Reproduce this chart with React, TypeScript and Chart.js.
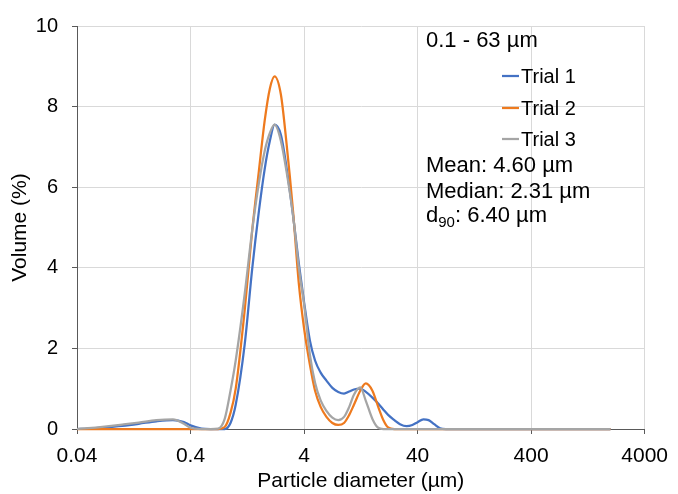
import React, { useEffect, useRef } from "react";
import { Chart, registerables } from "chart.js";

Chart.register(...registerables);

// Particle diameter (µm)
const sizes = [
  0.04, 0.05, 0.07, 0.1, 0.14, 0.2, 0.28, 0.35, 0.4, 0.5, 0.6, 0.7, 0.8, 0.9, 1.0,
  1.2, 1.4, 1.6, 1.8, 2.0, 2.2, 2.5, 2.8, 3.2, 3.6, 4.0, 4.5, 5.0, 5.6, 6.3, 7.1,
  8.0, 9.0, 10, 11, 12.5, 14, 16, 18, 20, 22, 25, 28, 32, 36, 40, 45, 50, 56, 63,
  71, 80, 100, 200, 500, 1000, 2000,
];

// Volume (%)
const trial1 = [
  0, 0.01, 0.04, 0.08, 0.13, 0.19, 0.22, 0.17, 0.09, 0.01, 0, 0, 0, 0.15, 0.6,
  2.1, 4.0, 5.4, 6.45, 7.15, 7.55, 7.3, 6.5, 5.3, 4.1, 3.15, 2.2, 1.7, 1.4, 1.2, 1.02,
  0.92, 0.88, 0.93, 0.98, 1.0, 0.92, 0.78, 0.63, 0.48, 0.35, 0.22, 0.12, 0.07, 0.1, 0.17, 0.24, 0.22, 0.12, 0.02,
  0, 0, 0, 0, 0, 0, 0,
];
const trial2 = [
  0, 0, 0, 0, 0, 0, 0, 0, 0, 0, 0, 0, 0.05, 0.4, 1.0,
  2.95, 4.95, 6.4, 7.65, 8.45, 8.75, 8.3, 7.1, 5.4, 3.6, 2.5, 1.6, 0.95, 0.55, 0.3, 0.15,
  0.1, 0.15, 0.35, 0.6, 0.95, 1.13, 0.95, 0.55, 0.22, 0.04, 0, 0, 0, 0, 0, 0, 0, 0, 0,
  0, 0, 0, 0, 0, 0, 0,
];
const trial3 = [
  0, 0.02, 0.06, 0.11, 0.16, 0.22, 0.24, 0.13, 0.03, 0, 0, 0.01, 0.25, 0.95, 1.7,
  3.35, 4.95, 6.1, 6.9, 7.35, 7.55, 7.15, 6.4, 5.3, 4.0, 3.1, 1.85, 1.15, 0.71, 0.45, 0.28,
  0.22, 0.3, 0.55, 0.85, 1.03, 0.7, 0.25, 0.03, 0, 0, 0, 0, 0, 0, 0, 0, 0, 0, 0,
  0, 0, 0, 0, 0, 0, 0,
];

const seriesNames = ["Trial 1", "Trial 2", "Trial 3"];
const seriesColors = ["#4472C4", "#EE7A1E", "#A5A5A5"];
const xTicks = [0.04, 0.4, 4, 40, 400, 4000];
const yTicks = [0, 2, 4, 6, 8, 10];
const rangeLabel = "0.1 - 63 µm";
const meanLabel = "Mean: 4.60 µm";
const medianLabel = "Median: 2.31 µm";
const d90Value = ": 6.40 µm";

const FONT = "'Liberation Sans', Arial, Helvetica, sans-serif";

const annotPlugin = {
  id: "annot",
  afterDraw(chart: any) {
    const ctx = chart.ctx as CanvasRenderingContext2D;
    ctx.save();
    ctx.fillStyle = "#000";
    ctx.textBaseline = "alphabetic";
    ctx.textAlign = "left";
    const tx = 426;
    ctx.font = `22px ${FONT}`;
    ctx.fillText(rangeLabel, tx, 47);

    // legend
    const lx0 = 502;
    const lx1 = 519;
    const legY = [76, 108, 139];
    seriesNames.forEach((name, i) => {
      ctx.strokeStyle = seriesColors[i];
      ctx.lineWidth = 2.25;
      ctx.beginPath();
      ctx.moveTo(lx0, legY[i]);
      ctx.lineTo(lx1, legY[i]);
      ctx.stroke();
      ctx.fillStyle = "#000";
      ctx.font = `20px ${FONT}`;
      ctx.textBaseline = "middle";
      ctx.fillText(name, 521, legY[i] + 1);
    });

    ctx.textBaseline = "alphabetic";
    ctx.font = `22px ${FONT}`;
    ctx.fillText(meanLabel, tx, 172);
    ctx.fillText(medianLabel, tx, 198);
    ctx.fillText("d", tx, 222);
    const dw = ctx.measureText("d").width;
    ctx.font = `15px ${FONT}`;
    ctx.fillText("90", tx + dw, 227);
    const sw = ctx.measureText("90").width;
    ctx.font = `22px ${FONT}`;
    ctx.fillText(d90Value, tx + dw + sw, 222);
    ctx.restore();
  },
};

export default function App() {
  const ref = useRef<HTMLCanvasElement | null>(null);

  useEffect(() => {
    if (!ref.current) return;
    Chart.defaults.font.family = FONT;
    const datasets = [trial1, trial2, trial3].map((vals, i) => ({
      label: seriesNames[i],
      data: sizes.map((s, j) => ({ x: s, y: vals[j] })),
      borderColor: seriesColors[i],
      backgroundColor: seriesColors[i],
      borderWidth: 2.25,
      pointRadius: 0,
      pointHoverRadius: 0,
      fill: false,
      cubicInterpolationMode: "monotone" as const,
      clip: false as any,
      order: 2 - i,
    }));
    const chart = new Chart(ref.current, {
      type: "line",
      data: { datasets },
      options: {
        animation: false,
        responsive: false,
        maintainAspectRatio: false,
        layout: { padding: { left: 0, right: 28, top: 22, bottom: 0 } },
        plugins: { legend: { display: false }, tooltip: { enabled: false } },
        scales: {
          x: {
            type: "logarithmic",
            min: 0.04,
            max: 4000,
            afterBuildTicks: (s: any) => {
              s.ticks = xTicks.map((v) => ({ value: v }));
            },
            afterFit: (s: any) => {
              s.height = 65;
            },
            ticks: {
              autoSkip: false,
              maxRotation: 0,
              minRotation: 0,
              padding: 10,
              color: "#000",
              font: { size: 21 },
              callback: (v: any) => String(v),
            },
            grid: { color: "#D9D9D9", lineWidth: 1, tickLength: 5, tickColor: "#595959" },
            border: { color: "#595959", width: 1 },
            title: {
              display: true,
              text: "Particle diameter (µm)",
              color: "#000",
              font: { size: 21 },
              padding: { top: 0, bottom: 0 },
            },
          },
          y: {
            type: "linear",
            min: 0,
            max: 10,
            afterBuildTicks: (s: any) => {
              s.ticks = yTicks.map((v) => ({ value: v }));
            },
            afterFit: (s: any) => {
              s.width = 77;
            },
            ticks: { padding: 14, color: "#000", font: { size: 20 } },
            grid: { color: "#D9D9D9", lineWidth: 1, tickLength: 5, tickColor: "#595959" },
            border: { color: "#595959", width: 1 },
            title: {
              display: true,
              text: "Volume (%)",
              color: "#000",
              font: { size: 21 },
              padding: { top: 8, bottom: 0 },
            },
          },
        },
      },
      plugins: [annotPlugin],
    });
    return () => chart.destroy();
  }, []);

  return (
    <div style={{ position: "fixed", left: 0, top: 0, width: 678, height: 494, background: "#fff" }}>
      <canvas ref={ref} width={678} height={494} style={{ display: "block" }} />
    </div>
  );
}
